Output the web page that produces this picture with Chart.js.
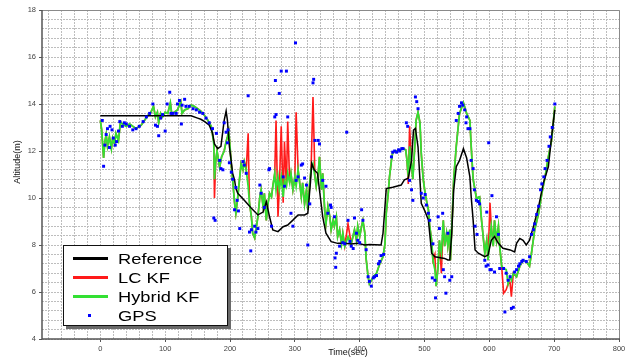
<!DOCTYPE html>
<html>
<head>
<meta charset="utf-8">
<script src="https://cdn.jsdelivr.net/npm/chart.js@4/dist/chart.umd.min.js"></script>
<style>
  html, body { margin:0; padding:0; background:#fff; }
  #wrap { position:relative; width:628px; height:360px; }
  #legend { position:absolute; left:63px; top:245px; width:163px; height:79px; background:#fff;
            border:1px solid #111; box-shadow:3px 3px 0 #6a6a6a; font-family:"Liberation Sans", Arial, sans-serif; }
  .row { position:absolute; left:0; height:19px; width:100%; }
  .sw { position:absolute; left:9px; width:35px; height:3px; }
  .lbl { position:absolute; left:54px; font-size:15px; line-height:15px; color:#000; transform:scaleX(1.22); transform-origin:left center; white-space:nowrap; }
  .dot { position:absolute; left:24px; width:3px; height:3px; background:#0000ff; }
</style>
</head>
<body>
<div id="wrap">
  <canvas id="c" width="628" height="360"></canvas>
  <div id="legend">
    <div class="row" style="top:3px"><div class="sw" style="top:8px;background:#000"></div><div class="lbl" style="top:2px">Reference</div></div>
    <div class="row" style="top:22px"><div class="sw" style="top:8px;background:#ff1a1a"></div><div class="lbl" style="top:2px">LC KF</div></div>
    <div class="row" style="top:41px"><div class="sw" style="top:8px;background:#33e033"></div><div class="lbl" style="top:2px">Hybrid KF</div></div>
    <div class="row" style="top:60px"><div class="dot" style="top:8px"></div><div class="lbl" style="top:2px">GPS</div></div>
  </div>
</div>
<script>
// ---- data ----
const refTime = [0,140,150,155,161,168,173,176,181,186,191,194,196,199,201,204,207,209,212,222,233,243,251,256,261,266,274,282,289,297,305,315,320,324,326,330,335,338,343,348,356,366,377,387,397,408,415,433,436,439,441,451,464,469,475,480,483,486,490,493,495,501,506,511,516,531,536,539,542,545,549,554,560,565,570,572,575,578,583,593,598,603,608,614,621,632,639,642,647,652,657,662,668,676,683,691,696,701];
const refAlt = [13.5,13.5,13.4,13.35,13.25,13.1,12.77,12.3,12.1,12.2,13.3,13.7,13.3,12.2,11.76,11.06,10.77,10.4,10.2,9.9,9.56,9.28,9.4,9.84,9.2,8.64,8.57,8.78,8.85,9.06,9.28,9.28,9.35,10.64,11.47,11.19,11.05,10.34,9.2,8.5,8.14,8.07,8.07,8.04,8.07,8.0,8.02,8.0,8.5,9.63,10.4,10.46,10.55,10.77,10.84,11.6,12.89,12.96,12.18,10.77,9.77,9.42,9.06,7.65,7.5,7.43,7.36,7.36,8.5,10.34,11.33,11.6,12.1,11.7,10.9,10.06,9.06,7.79,7.65,7.5,7.57,8.2,8.36,8.07,7.86,7.79,7.7,8.07,8.28,8.2,8.0,8.2,8.78,9.63,10.6,11.33,12.6,13.75];

const kfTime = [
  0,2,5,7,9,11,14,17,19,22,
  24,28,31,34,40,45,50,55,63,68,
  73,78,82,85,88,90,93,96,100,104,
  108,110,114,119,124,126,130,135,140,145,
  150,155,161,166,171,173,175,176,178,180,
  184,187,191,194,196,198,200,202,204,207,
  209,212,215,217,220,222,225,228,230,233,
  235,238,240,243,246,248,251,253,256,258,
  261,264,266,269,271,274,276,279,282,284,
  287,289,292,294,297,300,302,305,307,310,
  312,315,318,320,323,325,328,331,333,336,
  338,341,343,346,348,351,354,356,359,361,
  364,366,369,372,374,377,382,387,392,395,
  397,400,403,405,408,410,413,415,418,421,
  426,431,436,439,441,444,446,449,451,457,
  462,467,471,473,475,477,480,482,485,487,
  490,493,495,498,501,503,506,508,511,513,
  516,518,521,523,526,529,531,534,536,539,
  540,543,545,549,554,560,565,570,572,575,
  580,585,588,590,593,596,598,601,603,606,
  608,611,614,616,619,622,626,629,632,634,
  637,642,647,652,657,662,665,670,676,681,
  686,691,696,701];

const hybridAlt = [
  13.3,12.9,11.7,12.4,12.7,12.2,12.6,12.1,12.55,12.3,
  12.75,12.45,13.25,13.15,13.05,13.15,13.05,12.95,13.1,13.3,
  13.5,13.65,13.9,13.45,13.65,13.2,13.6,13.45,13.65,13.6,
  14.05,13.6,13.65,13.75,14.1,13.6,13.75,13.8,13.95,13.9,
  13.8,13.7,13.5,13.3,13.05,12.7,12.3,10.8,11.6,12.0,
  11.3,11.75,12.0,12.4,12.6,12.85,12.2,11.4,10.8,9.8,
  9.35,10.05,10.9,11.45,11.2,11.55,11.2,10.5,9.8,9.2,
  8.5,8.3,8.65,9.2,10.05,10.35,9.65,10.2,9.05,9.65,
  10.2,10.05,10.5,11.05,10.35,10.9,10.35,10.9,10.05,10.75,
  10.5,11.05,10.65,11.05,10.35,10.9,10.5,11.2,10.75,10.05,
  10.65,9.75,10.35,9.5,10.65,11.2,11.45,10.9,10.5,11.05,
  11.75,10.35,11.05,9.5,8.9,9.65,9.2,8.65,9.05,8.8,
  9.2,8.35,8.65,8.05,8.5,7.95,8.35,8.05,8.65,8.2,
  8.8,8.35,8.8,9.05,8.5,7.4,6.65,6.35,6.5,6.65,
  6.8,7.2,7.5,8.05,9.35,10.2,10.9,11.6,11.95,12.0,
  12.05,12.1,12.05,11.6,10.9,12.2,11.45,10.8,12.2,13.3,
  13.65,13.2,11.9,10.8,10.2,9.9,9.5,8.8,8.2,7.35,
  6.95,6.25,7.1,8.2,7.65,9.05,7.95,8.5,7.95,8.65,
  7.35,9.35,10.8,12.2,13.6,14.05,13.6,13.3,12.2,10.8,
  10.0,10.05,9.05,8.5,7.65,8.2,7.35,8.35,8.8,7.95,
  9.05,8.2,8.8,7.95,7.1,7.0,6.95,6.35,6.65,6.5,
  6.8,6.65,7.1,7.35,7.3,7.1,7.65,8.65,9.35,10.2,
  10.9,11.75,12.45,13.9];

const lcAlt = [
  13.3,12.9,11.7,12.4,12.7,12.2,12.6,12.1,12.55,12.3,
  12.75,12.45,13.25,13.15,13.05,13.15,13.05,12.95,13.1,13.3,
  13.5,13.65,13.9,13.45,13.65,13.2,13.6,13.45,13.65,13.6,
  14.05,13.6,13.65,13.75,14.1,13.6,13.75,13.8,13.95,13.9,
  13.8,13.7,13.5,13.3,13.05,12.7,12.4,10.0,11.6,12.0,
  11.3,11.75,12.0,12.4,12.6,12.85,12.2,11.4,10.8,9.8,
  9.35,10.05,10.9,11.45,11.2,11.55,11.2,12.75,9.8,9.2,
  8.5,8.3,8.65,9.2,10.05,10.35,9.65,10.2,9.05,9.65,
  10.2,10.05,10.5,11.05,13.3,9.2,10.35,13.05,9.8,12.4,
  10.5,13.25,10.65,11.05,10.35,10.9,13.65,11.2,10.75,10.05,
  10.65,9.75,10.35,9.5,10.65,11.2,14.3,10.9,10.5,11.05,
  11.75,10.35,11.05,9.5,8.9,9.65,9.2,8.65,9.05,8.8,
  9.2,8.35,8.65,8.05,8.5,7.95,8.9,8.05,8.65,8.2,
  8.8,8.35,8.8,9.05,8.5,7.4,6.65,6.35,6.5,6.65,
  6.8,7.2,7.5,8.05,9.35,10.2,10.9,11.6,11.95,12.0,
  12.05,12.1,12.05,11.6,10.6,13.05,11.45,10.8,12.2,13.3,
  13.65,13.2,11.9,10.8,10.2,9.9,9.5,8.8,8.2,7.35,
  7.6,6.25,7.1,8.2,6.8,9.05,7.95,8.5,7.95,8.65,
  7.35,9.35,10.8,12.2,13.6,14.05,13.6,13.3,12.2,10.8,
  10.0,10.05,9.05,8.5,7.65,8.2,7.35,9.8,8.8,7.95,
  9.05,8.2,8.8,7.95,7.1,5.95,6.1,6.35,6.4,5.8,
  6.8,6.65,7.1,7.35,7.3,7.1,7.65,8.65,9.35,10.2,
  10.9,11.75,12.45,13.9];

const gpsTime = [3,5,7,9,11,14,15,18,20,23,25,28,30,34,37,40,45,50,55,60,66,71,76,81,85,88,90,93,96,100,103,107,109,112,117,119,122,125,126,130,132,137,143,148,153,158,163,168,173,175,177,179,184,186,189,191,194,196,197,199,202,204,207,209,211,213,215,220,222,225,228,230,232,233,238,240,243,246,248,253,260,261,264,269,270,271,276,279,282,284,287,289,294,297,301,302,305,310,312,315,318,320,323,328,329,331,336,338,343,348,351,355,356,361,362,363,364,369,374,377,380,382,385,387,390,392,395,397,400,403,405,410,413,415,418,421,423,426,429,431,433,437,449,451,454,457,460,462,465,467,472,474,477,480,482,486,488,490,495,498,501,503,506,508,512,513,516,517,521,523,528,529,531,533,536,539,542,549,552,554,557,559,562,564,565,567,570,572,575,577,578,580,581,583,585,593,595,596,598,599,601,603,604,608,611,614,616,622,624,626,629,632,634,637,639,642,645,647,650,652,657,662,665,668,670,673,676,679,681,684,686,689,692,694,697,701];
const gpsAlt = [13.3,11.35,12.25,12.7,12.95,12.15,13.05,12.9,12.55,12.25,12.4,12.85,13.25,13.05,13.2,13.15,13.05,12.9,12.95,13.05,13.25,13.45,13.6,14.0,13.1,13.05,12.65,13.4,13.55,12.85,14.0,14.5,13.6,13.6,13.6,14.0,14.15,13.15,13.95,14.2,13.9,13.9,13.8,13.75,13.65,13.6,13.4,13.2,12.95,9.15,9.05,12.75,11.6,11.25,11.2,13.2,12.8,12.35,12.9,11.5,11.1,10.8,9.5,10.45,9.9,9.45,8.7,11.55,11.4,11.05,14.35,8.55,7.75,8.65,8.8,8.55,8.7,10.55,10.2,9.6,11.2,11.25,8.8,13.45,15.0,13.55,14.45,15.4,10.9,10.5,15.4,13.45,9.35,8.8,16.6,10.75,10.9,11.4,11.45,10.85,10.55,8.0,9.75,14.9,15.05,12.45,12.45,12.3,10.75,10.5,9.35,9.7,9.6,9.2,7.45,7.05,7.65,7.95,8.1,8.05,12.8,9.05,8.15,7.95,7.85,9.15,8.5,8.2,8.1,9.5,9.05,7.8,6.65,6.45,6.25,6.6,6.65,6.7,7.2,7.3,7.55,7.6,11.75,11.95,12.0,11.95,12.05,12.0,12.1,12.1,13.2,13.05,10.75,10.35,9.9,14.3,14.1,13.8,10.2,10.0,10.15,9.7,9.35,9.05,6.6,8.05,6.5,5.75,9.2,8.7,9.35,6.95,6.65,5.95,8.5,6.5,6.65,13.3,13.6,13.9,14.05,13.95,13.75,13.2,13.45,12.95,12.95,11.6,11.25,10.35,8.8,9.9,8.45,9.85,9.75,7.35,7.1,9.4,7.15,12.35,6.95,6.95,10.1,6.85,9.2,8.45,7.0,7.0,5.15,6.8,6.5,6.65,5.3,5.35,6.85,6.95,7.1,7.2,7.3,7.35,7.3,7.5,8.45,8.65,8.9,9.3,9.65,10.35,10.6,10.9,11.25,11.6,12.2,12.6,13.0,14.0];

const xMin = -90, xMax = 800, xStep = 20, xLabelEvery = 100;
const yMin = 4, yMax = 18, yStep = 0.4, yLabelEvery = 2;

const pts = (xs, ys) => xs.map((x, i) => ({ x: x, y: ys[i] }));
const isMajor = (v, every) => Math.abs(v / every - Math.round(v / every)) < 1e-6;

const tickFont = { family: "'Liberation Sans', Arial, sans-serif", size: 7.5 };

const framePlugin = {
  id: 'frame',
  afterDraw(chart) {
    const { ctx, chartArea: a } = chart;
    ctx.save();
    ctx.strokeStyle = '#8a8a8a';
    ctx.lineWidth = 1;
    ctx.beginPath();
    ctx.moveTo(a.left, a.top + 0.5); ctx.lineTo(a.right + 0.5, a.top + 0.5); ctx.lineTo(a.right + 0.5, a.bottom);
    ctx.stroke();
    ctx.strokeStyle = '#555';
    ctx.lineWidth = 1.5;
    ctx.beginPath();
    ctx.moveTo(a.left, a.top); ctx.lineTo(a.left, a.bottom); ctx.lineTo(a.right + 1, a.bottom);
    ctx.stroke();
    ctx.fillStyle = '#111';
    ctx.font = "9px 'Liberation Sans', Arial, sans-serif";
    ctx.textAlign = 'center';
    ctx.textBaseline = 'middle';
    ctx.fillText('Time(sec)', 348, 353);
    ctx.translate(18, 162);
    ctx.rotate(-Math.PI / 2);
    ctx.fillText('Altitude(m)', 0, 0);
    ctx.restore();
  }
};

new Chart(document.getElementById('c'), {
  type: 'line',
  data: {
    datasets: [
      { label: 'GPS', data: pts(gpsTime, gpsAlt), showLine: false, pointStyle: 'rect',
        pointRadius: 2.1, pointBorderWidth: 0, pointBackgroundColor: '#0000ff', borderColor: '#0000ff', order: 0 },
      { label: 'Reference', data: pts(refTime, refAlt), borderColor: '#000', borderWidth: 1.5,
        pointRadius: 0, tension: 0, order: 1 },
      { label: 'Hybrid KF', data: pts(kfTime, hybridAlt), borderColor: '#33e033', borderWidth: 1.8,
        pointRadius: 0, tension: 0, order: 2 },
      { label: 'LC KF', data: pts(kfTime, lcAlt), borderColor: '#ff1a1a', borderWidth: 1.6,
        pointRadius: 0, tension: 0, order: 3 }
    ]
  },
  options: {
    responsive: false,
    animation: false,
    layout: { padding: { left: 0, right: 9, top: 10, bottom: 0 } },
    plugins: { legend: { display: false }, tooltip: { enabled: false } },
    scales: {
      x: {
        type: 'linear', min: xMin, max: xMax,
        afterFit: (s) => { s.height = 21; },
        ticks: {
          stepSize: xStep, includeBounds: false, autoSkip: false, maxRotation: 0, minRotation: 0,
          padding: 2, color: '#444', font: tickFont,
          callback: (v) => isMajor(v, xLabelEvery) ? String(Math.round(v)) : ''
        },
        grid: {
          color: '#bdbdbd', lineWidth: 1, tickLength: 3,
          tickColor: (c) => (c.tick && isMajor(c.tick.value, xLabelEvery)) ? '#555' : 'rgba(0,0,0,0)'
        },
        border: { display: false, dash: [2, 1] }
      },
      y: {
        type: 'linear', min: yMin, max: yMax,
        afterFit: (s) => { s.width = 42; },
        ticks: {
          stepSize: yStep, autoSkip: false, padding: 3, color: '#444', font: tickFont,
          callback: (v) => isMajor(v, yLabelEvery) ? String(Math.round(v)) : ''
        },
        grid: {
          color: '#bdbdbd', lineWidth: 1, tickLength: 3,
          tickColor: (c) => (c.tick && isMajor(c.tick.value, yLabelEvery)) ? '#555' : 'rgba(0,0,0,0)'
        },
        border: { display: false, dash: [2, 1] }
      }
    }
  },
  plugins: [framePlugin]
});
</script>
</body>
</html>
